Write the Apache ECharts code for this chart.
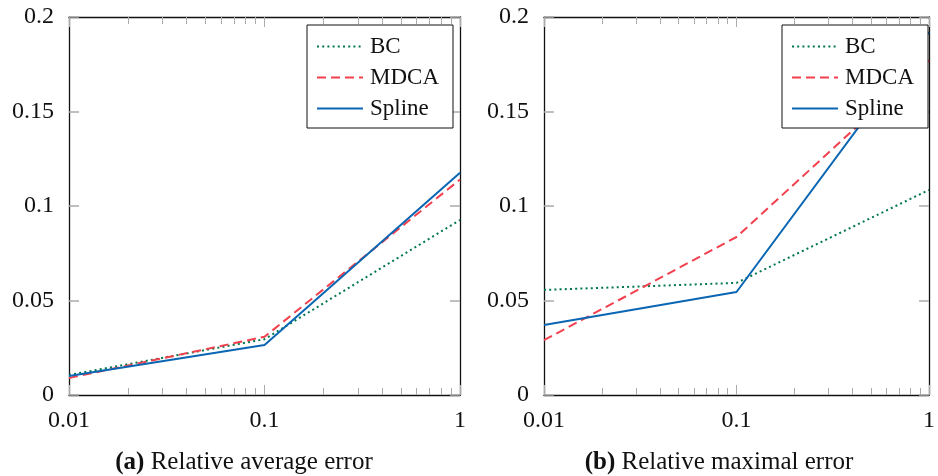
<!DOCTYPE html>
<html>
<head>
<meta charset="utf-8">
<script src="https://cdn.jsdelivr.net/npm/echarts@6/dist/echarts.min.js"></script>
<style>html,body{margin:0;padding:0;background:#fff}#c{width:938px;height:476px}</style>
</head>
<body>
<div id="c"></div>
<script>
const xValues = [0.01, 0.1, 1];
const seriesNames = ['BC', 'MDCA', 'Spline'];
const avgBC = [0.0106, 0.0295, 0.0926];
const avgMDCA = [0.0090, 0.0308, 0.1140];
const avgSpline = [0.0100, 0.0265, 0.1176];
const maxBC = [0.0556, 0.0593, 0.1085];
const maxMDCA = [0.0290, 0.0836, 0.1770];
const maxSpline = [0.0370, 0.0545, 0.1920];
const minorTickValues = [0.02,0.03,0.04,0.05,0.06,0.07,0.08,0.09,0.2,0.3,0.4,0.5,0.6,0.7,0.8,0.9];
const majorTickValues = [0.01, 0.1, 1];
const captions = ['{b|(a)} Relative average error', '{b|(b)} Relative maximal error'];

const FONT = 'Liberation Serif';
const colors = {BC: '#00774a', MDCA: '#f2404e', Spline: '#0a66b2'};
const dash = {BC: [2, 3.2], MDCA: [9, 5], Spline: 'solid'};
const grids = [
  {left: 69, width: 391, top: 17, height: 378},
  {left: 544, width: 392, top: 17, height: 378}
];
const legendLeft = [307, 782];
const captionX = [239, 714];

const xAxes = [], yAxes = [], series = [], legends = [], titles = [];
const panelData = [[avgBC, avgMDCA, avgSpline], [maxBC, maxMDCA, maxSpline]];
const tickColor = '#aaa';

grids.forEach((g, gi) => {
  const base = xAxes.length;
  xAxes.push({
    type: 'log', logBase: 10, min: 0.01, max: 1, gridIndex: gi, position: 'bottom',
    axisLine: {show: true, lineStyle: {color: '#111', width: 1.3}},
    axisTick: {show: true, inside: true, length: 10, lineStyle: {color: tickColor}, customValues: majorTickValues},
    axisLabel: {fontFamily: FONT, fontSize: 24, color: '#111', margin: 14, customValues: majorTickValues},
    splitLine: {show: false}, minorTick: {show: false}
  });
  xAxes.push({
    type: 'log', logBase: 10, min: 0.01, max: 1, gridIndex: gi, position: 'bottom',
    axisLine: {show: false},
    axisTick: {show: true, inside: true, length: 7, lineStyle: {color: tickColor}, customValues: minorTickValues},
    axisLabel: {show: false}, splitLine: {show: false}
  });
  xAxes.push({
    type: 'log', logBase: 10, min: 0.01, max: 1, gridIndex: gi, position: 'top',
    axisLine: {show: true, lineStyle: {color: '#111', width: 1.3}},
    axisTick: {show: true, inside: true, length: 10, lineStyle: {color: tickColor}, customValues: majorTickValues},
    axisLabel: {show: false}, splitLine: {show: false}
  });
  xAxes.push({
    type: 'log', logBase: 10, min: 0.01, max: 1, gridIndex: gi, position: 'top',
    axisLine: {show: false},
    axisTick: {show: true, inside: true, length: 7, lineStyle: {color: tickColor}, customValues: minorTickValues},
    axisLabel: {show: false}, splitLine: {show: false}
  });
  const yBase = yAxes.length;
  yAxes.push({
    type: 'value', min: 0, max: 0.2, interval: 0.05, gridIndex: gi, position: 'left',
    axisLine: {show: true, lineStyle: {color: '#111', width: 1.3}},
    axisTick: {show: true, inside: true, length: 10, lineStyle: {color: tickColor, width: 1.5}},
    axisLabel: {fontFamily: FONT, fontSize: 24, color: '#111', margin: 15},
    splitLine: {show: false}
  });
  yAxes.push({
    type: 'value', min: 0, max: 0.2, interval: 0.05, gridIndex: gi, position: 'right',
    axisLine: {show: true, lineStyle: {color: '#111', width: 1.3}},
    axisTick: {show: true, inside: true, length: 10, lineStyle: {color: tickColor, width: 1.5}},
    axisLabel: {show: false}, splitLine: {show: false}
  });
  seriesNames.forEach((name, si) => {
    series.push({
      name, type: 'line', xAxisIndex: base, yAxisIndex: yBase,
      data: xValues.map((x, i) => [x, panelData[gi][si][i]]),
      symbol: 'none', showSymbol: false, animation: false, clip: true,
      lineStyle: {color: colors[name], width: 2, type: dash[name]},
      itemStyle: {color: colors[name]},
      z: 3
    });
  });
  legends.push({
    data: seriesNames, orient: 'vertical', left: legendLeft[gi], top: 25,
    itemWidth: 46, itemHeight: 20, itemGap: 8,
    padding: [10, 14, 8, 9],
    borderColor: '#111', borderWidth: 1, backgroundColor: '#fff',
    itemStyle: {opacity: 0, borderWidth: 0},
    lineStyle: {width: 2},
    textStyle: {fontFamily: FONT, fontSize: 23, color: '#111', padding: [0, 0, 0, 2]},
    selectedMode: false, z: 10
  });
  titles.push({
    text: captions[gi], left: captionX[gi], top: 445, textAlign: 'center',
    textStyle: {fontFamily: FONT, fontSize: 25, fontWeight: 'normal', color: '#111',
      rich: {b: {fontFamily: FONT, fontSize: 25, fontWeight: 'bold', color: '#111'}}}
  });
});

const chart = echarts.init(document.getElementById('c'), null, {renderer: 'canvas'});
chart.setOption({
  animation: false,
  backgroundColor: '#fff',
  title: titles,
  grid: grids,
  xAxis: xAxes,
  yAxis: yAxes,
  legend: legends,
  series
});
</script>
</body>
</html>
